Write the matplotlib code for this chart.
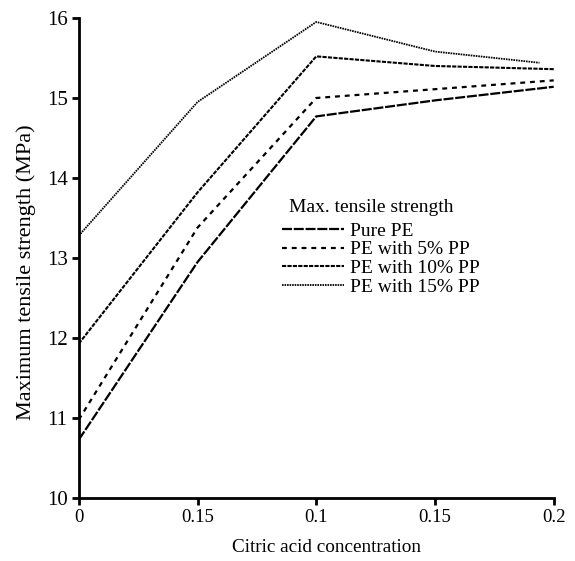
import matplotlib
matplotlib.use('Agg')
import matplotlib.pyplot as plt

plt.rcParams['font.family'] = ['Liberation Serif', 'DejaVu Serif']

# concentraciones (la figura original rotula 0, 0.15, 0.1, 0.15, 0.2)
conc = [0, 0.05, 0.1, 0.15, 0.2]
conc_15 = [0, 0.05, 0.1, 0.15, 0.194]
etiquetas_x = ['0', '0.15', '0.1', '0.15', '0.2']

pure_pe = [10.73, 12.95, 14.77, 14.97, 15.14]
pe_5pp = [10.98, 13.38, 15.00, 15.11, 15.22]
pe_10pp = [11.93, 13.82, 15.52, 15.40, 15.36]
pe_15pp = [13.28, 14.95, 15.95, 15.58, 15.44]

fig = plt.figure(figsize=(5.75, 5.61), dpi=100)
ax = fig.add_axes([0.137, 0.112, 0.826, 0.856])

ax.plot(conc, pure_pe, color='black', lw=1.6, dashes=(4.5, 0.8), label='Pure PE')
ax.plot(conc, pe_5pp, color='black', lw=1.6, dashes=(2.2, 2.2), label='PE with 5% PP')
ax.plot(conc, pe_10pp, color='black', lw=1.5, dashes=(2.0, 0.6), label='PE with 10% PP')
ax.plot(conc_15, pe_15pp, color='black', lw=1.3, dashes=(0.9, 0.5), label='PE with 15% PP')

ax.set_xlim(0, 0.2)
ax.set_ylim(10, 16)
ax.set_xticks(conc)
ax.set_xticklabels(etiquetas_x)
ax.set_yticks([10, 11, 12, 13, 14, 15, 16])
ax.tick_params(direction='out', length=5, width=2, pad=3)
ax.tick_params(axis='x', labelsize=13.5)
ax.tick_params(axis='y', labelsize=15)
for s in ['top', 'right']:
    ax.spines[s].set_visible(False)
for s in ['left', 'bottom']:
    ax.spines[s].set_linewidth(2)

ax.set_xlabel('Citric acid concentration', fontsize=13.8)
ax.xaxis.set_label_coords(0.522, -0.085)
ax.set_ylabel('Maximum tensile strength (MPa)', fontsize=16)
ax.yaxis.set_label_coords(-0.09, 0.47)

ax.text(0.442, 0.606, 'Max. tensile strength', transform=ax.transAxes,
        fontsize=14, ha='left', va='center')
leg = ax.legend(frameon=False, fontsize=14, loc='upper left',
                bbox_to_anchor=(0.427, 0.575), borderpad=0, borderaxespad=0,
                handlelength=3.2, handletextpad=0.3, labelspacing=0.06)

plt.savefig('out.png', dpi=100)
